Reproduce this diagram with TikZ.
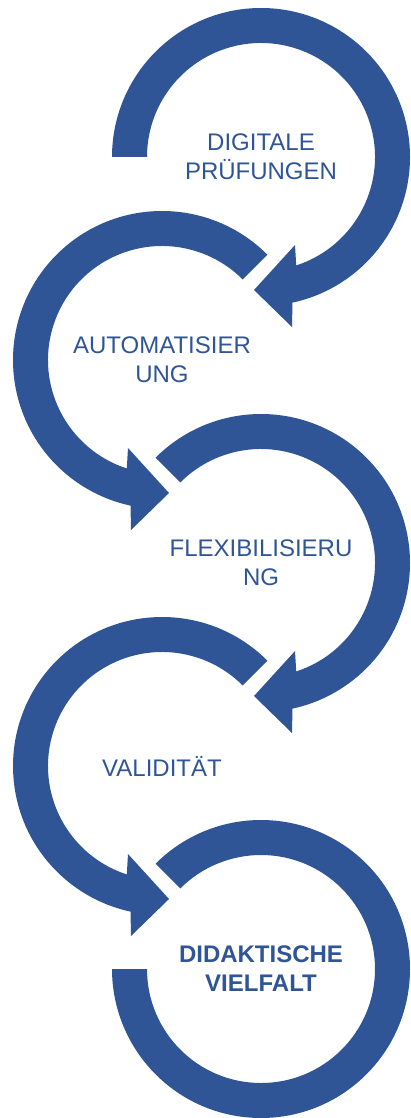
\documentclass[tikz,border=0pt]{standalone}
\usepackage{fontspec}
\setmainfont{Liberation Sans}
\usetikzlibrary{calc}
\definecolor{arrowblue}{HTML}{2F5597}
\newcommand\drawCWarrow[2]{%
  \fill[arrowfill] ($(#1)+(#2:149)$) arc[start angle=#2, end angle=-77.8, radius=149]
    -- ($(#1)+(31,-170)$) -- ($(#1)+(-7,-133)$) -- ($(#1)+(34,-88)$)
    -- ($(#1)+(-72:114)$) arc[start angle=-72, end angle=#2, radius=114] -- cycle;}
\newcommand\drawCCWarrow[2]{%
  \fill[arrowfill] ($(#1)+(#2:149)$) arc[start angle=#2, end angle=257.8, radius=149]
    -- ($(#1)+(-31,-170)$) -- ($(#1)+(7,-133)$) -- ($(#1)+(-34,-88)$)
    -- ($(#1)+(252:114)$) arc[start angle=252, end angle=#2, radius=114] -- cycle;}
\begin{document}
\begin{tikzpicture}[x=1pt,y=1pt,
  arrowfill/.style={fill=arrowblue},
  label/.style={text=arrowblue, align=center, inner sep=0pt, font=\fontsize{24}{29}\selectfont}]
\useasboundingbox (0,0) rectangle (410,-1118);
\coordinate (c1) at (261,-157);
\coordinate (c2) at (162,-360);
\coordinate (c3) at (261,-563);
\coordinate (c4) at (162,-766);
\coordinate (c5) at (261,-969);
\drawCWarrow{c1}{180}
\drawCCWarrow{c2}{45}
\drawCWarrow{c3}{135}
\drawCCWarrow{c4}{45}
\fill[arrowfill] ($(c5)+(135:149)$) arc[start angle=135, end angle=-180, radius=149]
  -- ($(c5)+(-180:114)$) arc[start angle=-180, end angle=135, radius=114] -- cycle;
\node[label] (t1) at (c1) {DIGITALE\\PRÜFUNGEN};
\node[label] (t2) at (c2) {AUTOMATISIER\\UNG};
\node[label] (t3) at (c3) {FLEXIBILISIERU\\NG};
\node[label] (t4) at (c4) {VALIDITÄT};
\node[label, font=\fontsize{24}{29}\selectfont\bfseries] (t5) at (c5) {DIDAKTISCHE\\VIELFALT};
\end{tikzpicture}
\end{document}
